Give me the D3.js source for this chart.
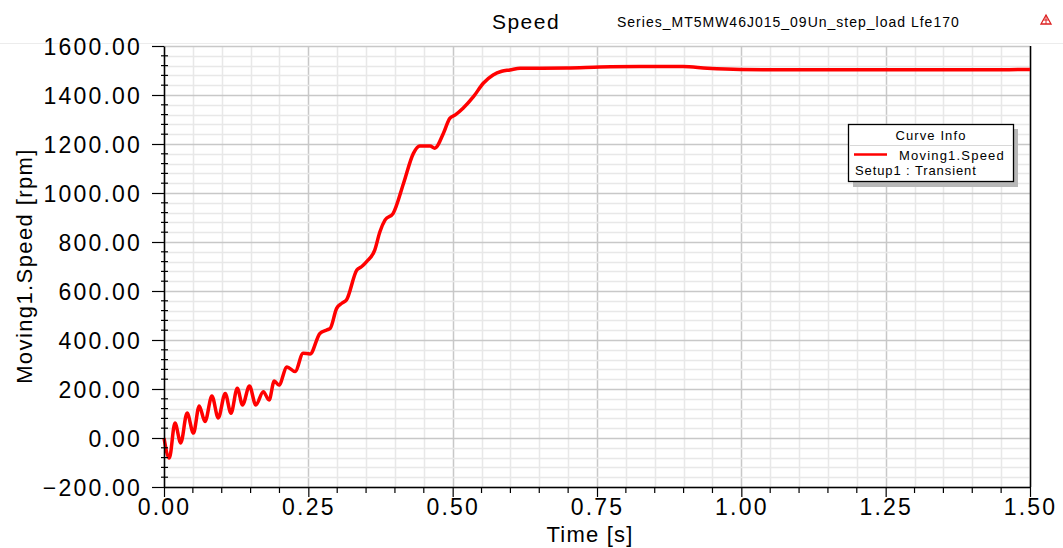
<!DOCTYPE html>
<html><head><meta charset="utf-8">
<script src="https://cdn.jsdelivr.net/npm/d3@7"></script>
<style>
body{margin:0;background:#fff;}
svg text{font-family:"Liberation Sans",Arial,sans-serif;fill:#000;}
</style>
</head><body>
<svg id="chart" width="1063" height="548"></svg>
<script>
// ---- data ----
const times  = [0, 0.0092, 0.019, 0.029, 0.040, 0.051, 0.061, 0.071, 0.083, 0.094, 0.106, 0.116, 0.127, 0.136, 0.148, 0.159, 0.172, 0.182, 0.191, 0.199, 0.213, 0.227, 0.241, 0.253, 0.270, 0.282, 0.288, 0.299, 0.308, 0.316, 0.334, 0.342, 0.351, 0.365, 0.374, 0.383, 0.397, 0.415, 0.432, 0.443, 0.461, 0.469, 0.484, 0.495, 0.504, 0.518, 0.536, 0.553, 0.570, 0.585, 0.599, 0.617, 0.698, 0.755, 0.824, 0.899, 0.941, 0.998, 1.10, 1.20, 1.30, 1.40, 1.50];
const speeds = [0, -82, 61, -20, 102, 20, 131, 67, 171, 82, 182, 101, 203, 135, 212, 135, 189, 155, 233, 216, 290, 271, 346, 343, 427, 441, 448, 529, 550, 563, 686, 699, 720, 767, 842, 890, 917, 1040, 1162, 1192, 1192, 1183, 1244, 1305, 1318, 1346, 1393, 1448, 1482, 1497, 1502, 1509, 1510, 1514, 1516, 1516, 1509, 1504, 1503, 1503, 1503, 1503, 1504];
const xTickValues = [0, 0.25, 0.5, 0.75, 1.0, 1.25, 1.5];
const yTickValues = [-200, 0, 200, 400, 600, 800, 1000, 1200, 1400, 1600];
const xMinorStep = 0.05;
const yMinorStep = 40;
const titleText = "Speed";
const subtitleText = "Series_MT5MW46J015_09Un_step_load Lfe170";
const xLabel = "Time [s]";
const yLabel = "Moving1.Speed [rpm]";
const legendTitle = "Curve Info";
const seriesName = "Moving1.Speed";
const setupName = "Setup1 : Transient";

// ---- layout ----
const svg = d3.select("#chart");
const x = d3.scaleLinear().domain([0, 1.5]).range([164, 1030]);
const y = d3.scaleLinear().domain([-200, 1600]).range([487, 46]);
const [x0, x1] = x.range();
const [y0, y1] = y.range();

// faint header line
svg.append("line").attr("x1", 0).attr("x2", 1063).attr("y1", 43.5).attr("y2", 43.5)
  .attr("stroke", "#ececec").attr("stroke-width", 1);

// grid
const xMinor = d3.range(0, 1.5 + 1e-9, xMinorStep);
const yMinor = d3.range(-200, 1600 + 1e-9, yMinorStep);
const g = svg.append("g");
g.selectAll(".vx").data(xMinor).join("line")
  .attr("x1", d => Math.round(x(d)) + 0.5).attr("x2", d => Math.round(x(d)) + 0.5)
  .attr("y1", y1).attr("y2", y0)
  .attr("stroke", d => xTickValues.some(t => Math.abs(t - d) < 1e-6) ? "#c8c8c8" : "#e8e8e8")
  .attr("stroke-width", 1.5);
g.selectAll(".hy").data(yMinor).join("line")
  .attr("x1", x0).attr("x2", x1)
  .attr("y1", d => Math.round(y(d)) + 0.5).attr("y2", d => Math.round(y(d)) + 0.5)
  .attr("stroke", d => yTickValues.some(t => Math.abs(t - d) < 1e-6) ? "#c8c8c8" : "#e8e8e8")
  .attr("stroke-width", 1.5);

// right border
svg.append("line").attr("x1", x1 + 0.5).attr("x2", x1 + 0.5).attr("y1", y1).attr("y2", y0)
  .attr("stroke", "#000").attr("stroke-width", 1.5);

// series line
const line = d3.line().x((d, i) => x(times[i])).y(d => y(d)).curve(d3.curveMonotoneX);
svg.append("path").datum(speeds).attr("d", line)
  .attr("fill", "none").attr("stroke", "#ff0000").attr("stroke-width", 3.5)
  .attr("stroke-linejoin", "round");

// axes
const fmt = d3.format(".2f");
const xAxis = svg.append("g").attr("transform", `translate(0,${y0})`)
  .call(d3.axisBottom(x).tickValues(xTickValues).tickFormat(fmt).tickSize(10).tickSizeOuter(0).tickPadding(2));
const yAxis = svg.append("g").attr("transform", `translate(${x0},0)`)
  .call(d3.axisLeft(y).tickValues(yTickValues).tickFormat(fmt).tickSize(12).tickSizeOuter(0).tickPadding(10));
[xAxis, yAxis].forEach(a => {
  a.select(".domain").attr("stroke", "#000").attr("stroke-width", 1.5);
  a.selectAll(".tick line").attr("stroke", "#000").attr("stroke-width", 1.2);
  a.selectAll("text").attr("font-size", 23).attr("letter-spacing", 2.2)
    .style("font-family", "'Liberation Sans', Arial, sans-serif").attr("fill", "#000");
});
xAxis.selectAll("text").attr("dy", "0.71em");
yAxis.selectAll("text").attr("dy", "0.36em");

// minor ticks
svg.append("g").selectAll("line").data(xMinor.filter(d => !xTickValues.some(t => Math.abs(t - d) < 1e-6))).join("line")
  .attr("x1", d => x(d)).attr("x2", d => x(d)).attr("y1", y0).attr("y2", y0 + 6)
  .attr("stroke", "#000").attr("stroke-width", 1.2);
svg.append("g").selectAll("line").data(yMinor.filter(d => !yTickValues.some(t => Math.abs(t - d) < 1e-6))).join("line")
  .attr("x1", x0 - 3).attr("x2", x0 + 4).attr("y1", d => y(d)).attr("y2", d => y(d))
  .attr("stroke", "#000").attr("stroke-width", 1.2);

// titles
svg.append("text").attr("x", 526).attr("y", 29).attr("text-anchor", "middle")
  .attr("font-size", 21).attr("letter-spacing", 1.5).text(titleText);
svg.append("text").attr("x", 617).attr("y", 27).attr("text-anchor", "start")
  .attr("font-size", 14).attr("letter-spacing", 1).text(subtitleText);
svg.append("text").attr("x", 590).attr("y", 542).attr("text-anchor", "middle")
  .attr("font-size", 22).attr("letter-spacing", 1.2).text(xLabel);
svg.append("text").attr("transform", "translate(32,266) rotate(-90)").attr("text-anchor", "middle")
  .attr("font-size", 22).attr("letter-spacing", 1.4).text(yLabel);

// icon
const ic = svg.append("g").attr("transform", "translate(1046,20)");
ic.append("path").attr("d", "M0,-5 L5,4 L-5,4 Z").attr("fill", "none").attr("stroke", "#d22").attr("stroke-width", 1.3);
ic.append("path").attr("d", "M0,-5 L0,4 M-2.5,0 L2.5,0").attr("stroke", "#d22").attr("stroke-width", 1);

// legend
const lg = svg.append("g");
lg.append("rect").attr("x", 853).attr("y", 129).attr("width", 165).attr("height", 58).attr("fill", "#b8b8b8");
lg.append("rect").attr("x", 848.5).attr("y", 124.5).attr("width", 165).attr("height", 57)
  .attr("fill", "#fff").attr("stroke", "#000").attr("stroke-width", 1.3);
lg.append("line").attr("x1", 849).attr("x2", 1013).attr("y1", 145.5).attr("y2", 145.5)
  .attr("stroke", "#d8d8d8").attr("stroke-width", 1);
lg.append("text").attr("x", 931).attr("y", 140).attr("text-anchor", "middle")
  .attr("font-size", 13).attr("letter-spacing", 1.1).text(legendTitle);
lg.append("line").attr("x1", 854).attr("x2", 887).attr("y1", 154.5).attr("y2", 154.5)
  .attr("stroke", "#ff0000").attr("stroke-width", 2.5);
lg.append("text").attr("x", 899).attr("y", 160).attr("font-size", 13).attr("letter-spacing", 1.2).text(seriesName);
lg.append("text").attr("x", 855).attr("y", 175).attr("font-size", 13).attr("letter-spacing", 0.9).text(setupName);
</script>
</body></html>
